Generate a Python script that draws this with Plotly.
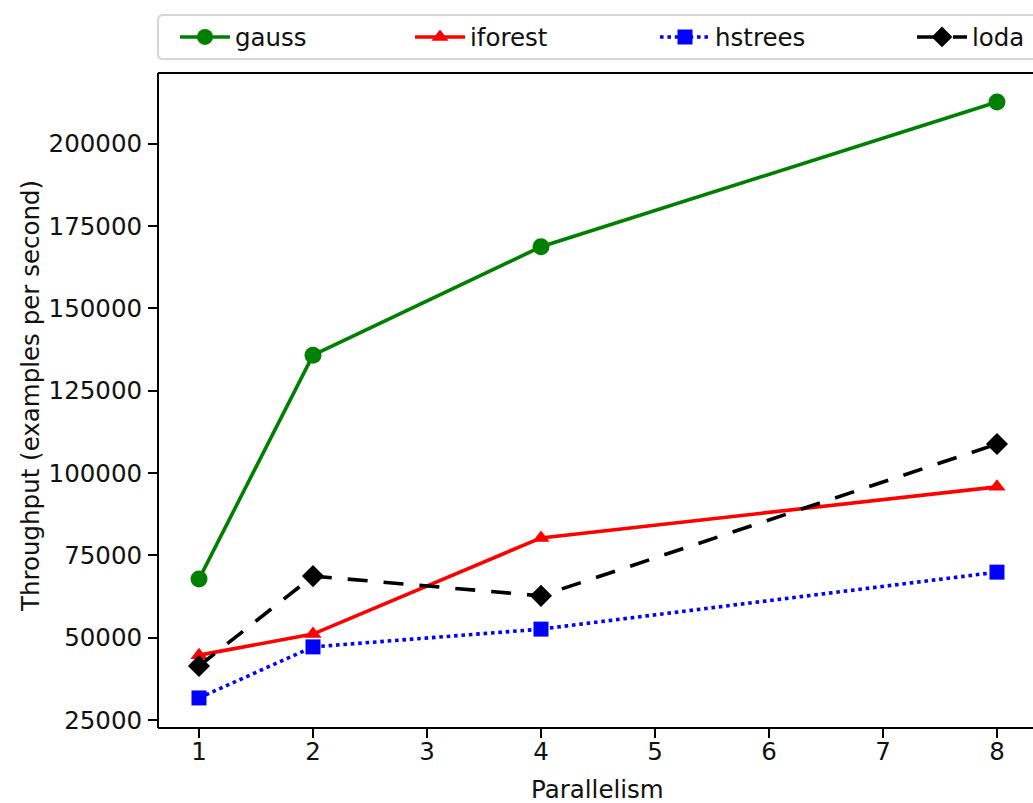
import plotly.graph_objects as go

parallelism = [1, 2, 4, 8]
gauss = [67800, 135800, 168700, 212700]
iforest = [44700, 51100, 80300, 95800]
hstrees = [31700, 47200, 52600, 69900]
loda = [41400, 68700, 62700, 108800]

x_tick_vals = [1, 2, 3, 4, 5, 6, 7, 8]
y_tick_vals = [25000, 50000, 75000, 100000, 125000, 150000, 175000, 200000]

FONT = "DejaVu Sans"
FS = 24.5
TXT = "#111111"

W, H = 1033, 803
ML, MT, MB = 158, 73, 75
PW, PH = W - ML, H - MT - MB


def px_x(px):
    return (px - ML) / PW


def px_y(py):
    return 1 + (MT - py) / PH


fig = go.Figure()
fig.add_trace(go.Scatter(x=parallelism, y=gauss, name="gauss", mode="lines+markers",
                         legend="legend",
                         line=dict(color="#008000", width=3.6),
                         marker=dict(symbol="circle", size=17, color="#008000")))
fig.add_trace(go.Scatter(x=parallelism, y=iforest, name="iforest", mode="lines+markers",
                         legend="legend2",
                         line=dict(color="#ff0000", width=3.6),
                         marker=dict(symbol="triangle-up", size=15, color="#ff0000")))
fig.add_trace(go.Scatter(x=parallelism, y=hstrees, name="hstrees", mode="lines+markers",
                         legend="legend3",
                         line=dict(color="#0000ff", width=3.6, dash="3.6px,3.8px"),
                         marker=dict(symbol="square", size=15, color="#0000ff")))
fig.add_trace(go.Scatter(x=parallelism, y=loda, name="loda", mode="lines+markers",
                         legend="legend4",
                         line=dict(color="#000000", width=3.6, dash="20px,16px"),
                         marker=dict(symbol="diamond", size=17, color="#000000")))

text_targets = [236, 471, 716, 973]
legends = {}
for i, tx in enumerate(text_targets):
    key = "legend" if i == 0 else f"legend{i + 1}"
    legends[key] = dict(orientation="h", x=px_x(tx - 61), xanchor="left",
                        y=px_y(37), yanchor="middle",
                        bgcolor="rgba(0,0,0,0)", borderwidth=0,
                        font=dict(family=FONT, size=FS, color=TXT),
                        itemwidth=50)

# legend frame (rounded on the visible left side)
x0, x1 = px_x(158), px_x(1045)
y0, y1 = px_y(59), px_y(15)
rx, ry = 5 / PW, 5 / PH
frame_path = (f"M {x0 + rx},{y0} L {x1},{y0} L {x1},{y1} L {x0 + rx},{y1} "
              f"Q {x0},{y1} {x0},{y1 - ry} L {x0},{y0 + ry} Q {x0},{y0} {x0 + rx},{y0} Z")

spine = dict(color="black", width=2)

fig.update_layout(
    width=W, height=H,
    margin=dict(l=ML, r=0, t=MT, b=MB, autoexpand=False),
    paper_bgcolor="white", plot_bgcolor="white",
    font=dict(family=FONT, size=FS, color=TXT),
    showlegend=True,
    **legends,
    xaxis=dict(range=[0.6404, 8.316], tickmode="array", tickvals=x_tick_vals,
               showgrid=False, zeroline=False, showline=False,
               ticks="outside", ticklen=9, tickwidth=2,
               tickcolor="black", ticklabelstandoff=-7,
               tickfont=dict(family=FONT, size=FS, color=TXT)),
    yaxis=dict(range=[22570, 221480], tickmode="array", tickvals=y_tick_vals,
               ticktext=[str(v) for v in y_tick_vals],
               showgrid=False, zeroline=False, showline=False,
               ticks="outside", ticklen=9, tickwidth=2,
               tickcolor="black", ticklabelstandoff=1,
               tickfont=dict(family=FONT, size=FS, color=TXT)),
    shapes=[
        dict(type="line", xref="paper", yref="paper", x0=0, x1=1.01, y0=1, y1=1,
             line=spine, layer="above"),
        dict(type="line", xref="paper", yref="paper", x0=0, x1=1.01, y0=0, y1=0,
             line=spine, layer="above"),
        dict(type="line", xref="paper", yref="paper", x0=0, x1=0, y0=0, y1=1,
             line=spine, layer="above"),
        dict(type="path", xref="paper", yref="paper", path=frame_path,
             fillcolor="white", line=dict(color="#d6d6d6", width=2), layer="above"),
    ],
    annotations=[
        dict(text="Parallelism", xref="paper", yref="paper", x=px_x(597), y=0,
             xanchor="center", yanchor="middle", yshift=-61, showarrow=False,
             font=dict(family=FONT, size=FS, color=TXT)),
        dict(text="Throughput (examples per second)", xref="paper", yref="paper",
             x=0, y=px_y(396), xanchor="center", yanchor="middle", xshift=-128,
             textangle=-90, showarrow=False,
             font=dict(family=FONT, size=FS, color=TXT)),
    ],
)

fig.write_html("out.html", config={"staticPlot": True, "displayModeBar": False})
